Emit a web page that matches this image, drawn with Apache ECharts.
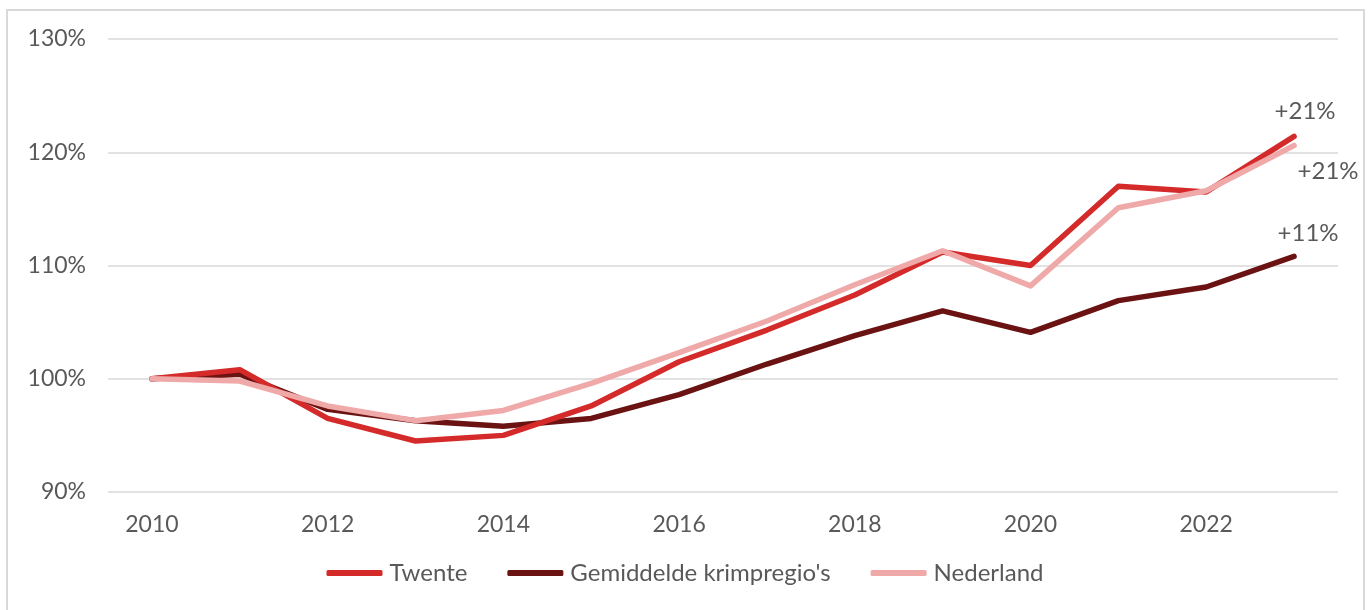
<!DOCTYPE html>
<html>
<head>
<meta charset="utf-8">
<script src="https://cdn.jsdelivr.net/npm/echarts@6/dist/echarts.min.js"></script>
<style>
  html, body { margin: 0; padding: 0; background: #fff; }
  #main { width: 1370px; height: 610px; }
</style>
</head>
<body>
<div id="main"></div>
<script>
var years = ['2010', '2011', '2012', '2013', '2014', '2015', '2016', '2017', '2018', '2019', '2020', '2021', '2022', '2023'];
var twente = [100, 100.8, 96.5, 94.5, 95.0, 97.6, 101.5, 104.3, 107.4, 111.2, 110.0, 117.0, 116.5, 121.4];
var krimp = [100, 100.4, 97.3, 96.3, 95.8, 96.5, 98.6, 101.3, 103.8, 106.0, 104.1, 106.9, 108.1, 110.8];
var nederland = [100, 99.8, 97.6, 96.3, 97.2, 99.6, 102.3, 105.1, 108.3, 111.3, 108.2, 115.1, 116.6, 120.6];
var endLabels = ['+21%', '+11%', '+21%'];

var chart = echarts.init(document.getElementById('main'));

// label only on the last point, placed around the point centre
function withEndLabel(list, text, offset) {
  return list.map(function (v, i) {
    if (i !== list.length - 1) return v;
    return {
      value: v,
      label: {
        show: true,
        formatter: text,
        position: 'inside',
        align: 'center',
        verticalAlign: 'middle',
        offset: offset,
        color: '#595959',
        fontSize: 24,
        fontFamily: 'Lato'
      }
    };
  });
}

var txt = { color: '#595959', fontSize: 23, fontFamily: 'Lato' };

var option = {
  animation: false,
  color: ['#d42a2a', '#6b1313', '#f0a9a9'],
  graphic: [{
    type: 'rect',
    shape: { x: 7, y: 10, width: 1357, height: 640 },
    style: { fill: 'none', stroke: '#d9d9d9', lineWidth: 2 },
    silent: true
  }],
  grid: {
    left: 108,
    right: 32,
    top: 39,
    bottom: 118
  },
  legend: {
    bottom: 20,
    left: 'center',
    itemWidth: 56,
    itemHeight: 6,
    itemGap: 40,
    icon: 'roundRect',
    textStyle: { color: '#595959', fontSize: 24, fontFamily: 'Lato', padding: [0, 0, 0, 2] },
    data: ['Twente', "Gemiddelde krimpregio's", 'Nederland']
  },
  xAxis: {
    type: 'category',
    data: years,
    boundaryGap: true,
    axisLine: { show: false },
    axisTick: { show: false },
    axisLabel: Object.assign({ interval: 1, margin: 21 }, txt)
  },
  yAxis: {
    type: 'value',
    min: 90,
    max: 130,
    interval: 10,
    axisLine: { show: false },
    axisTick: { show: false },
    splitLine: { lineStyle: { color: '#d9d9d9', width: 1.5 } },
    axisLabel: Object.assign({ formatter: '{value}%', margin: 22 }, txt)
  },
  series: [
    {
      name: 'Twente',
      type: 'line',
      symbol: 'circle',
      symbolSize: 0.1,
      z: 3,
      lineStyle: { width: 5.5, cap: 'round', join: 'round' },
      data: withEndLabel(twente, endLabels[0], [11, -25])
    },
    {
      name: "Gemiddelde krimpregio's",
      type: 'line',
      symbol: 'circle',
      symbolSize: 0.1,
      z: 2,
      lineStyle: { width: 5.5, cap: 'round', join: 'round' },
      data: withEndLabel(krimp, endLabels[1], [14, -23])
    },
    {
      name: 'Nederland',
      type: 'line',
      symbol: 'circle',
      symbolSize: 0.1,
      z: 4,
      lineStyle: { width: 5.5, cap: 'round', join: 'round' },
      data: withEndLabel(nederland, endLabels[2], [34, 26])
    }
  ]
};

chart.setOption(option);
</script>
</body>
</html>
